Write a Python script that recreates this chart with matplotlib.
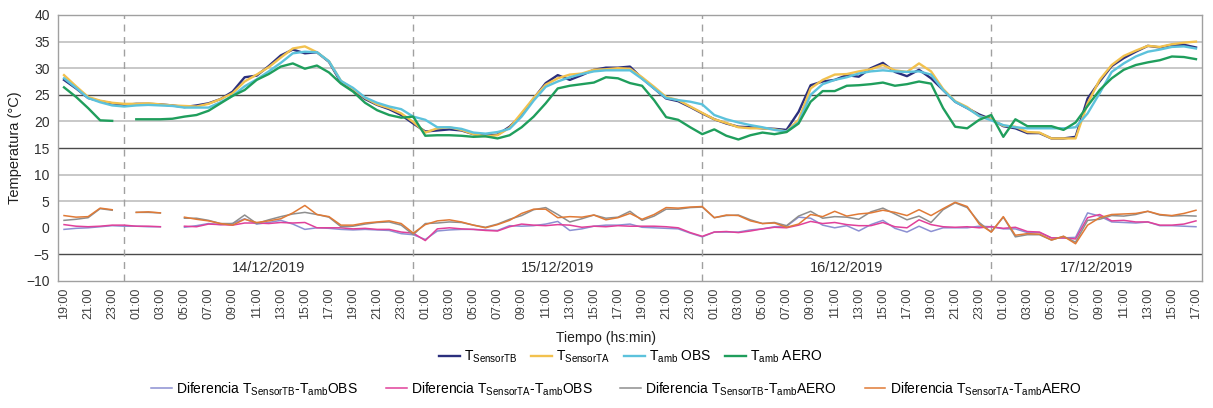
import numpy as np
import matplotlib
matplotlib.use("Agg")
import matplotlib.pyplot as plt
from matplotlib import font_manager

nan = np.nan

# ---------------- data ----------------
start_hour = 19
n_points = 95
time_labels = ["%02d:00" % ((start_hour + i) % 24) for i in range(n_points)]
dates = ["14/12/2019", "15/12/2019", "16/12/2019", "17/12/2019"]
day_starts = [5, 29, 53, 77]   # index of 00:00 of each date

T_sensor_TB = [27.8, 26.2, 24.4, 23.8, 23.4, 23.1, 23.3, 23.3, 23.2, 23.0,
               22.7, 23.0, 23.4, 24.2, 25.6, 28.3, 28.6, 30.4, 32.4, 33.5,
               32.8, 33.0, 31.2, 27.3, 25.9, 24.2, 23.1, 22.3, 21.2, 19.6,
               18.1, 18.3, 18.5, 18.3, 17.6, 17.3, 17.5, 19.0, 21.2, 24.3,
               27.2, 28.7, 27.8, 28.7, 29.7, 30.1, 30.1, 30.3, 28.1, 26.2,
               24.3, 23.8, 22.7, 21.5, 20.4, 19.6, 19.0, 18.9, 18.7, 18.6,
               18.4, 21.8, 26.8, 27.5, 27.8, 28.7, 28.4, 30.0, 31.0, 29.3,
               28.5, 29.7, 28.1, 25.9, 23.7, 22.5, 21.3, 20.4, 19.1, 18.7,
               17.8, 17.8, 16.8, 16.8, 17.1, 24.3, 27.5, 30.4, 31.9, 33.1,
               34.2, 33.9, 34.4, 34.4, 33.9]

T_sensor_TA = [28.7, 26.6, 24.6, 23.9, 23.5, 23.3, 23.3, 23.4, 23.2, 23.0,
               22.9, 22.8, 23.3, 24.2, 25.3, 27.5, 28.8, 30.2, 32.0, 33.7,
               34.1, 33.0, 31.3, 27.6, 26.1, 24.4, 23.2, 22.5, 21.5, 19.9,
               17.9, 18.7, 18.9, 18.4, 17.6, 17.2, 17.4, 18.8, 21.6, 24.4,
               26.9, 28.1, 28.8, 29.0, 29.7, 29.8, 30.0, 29.9, 28.3, 26.5,
               24.6, 24.0, 22.8, 21.6, 20.4, 19.7, 18.9, 18.7, 18.7, 18.5,
               18.1, 20.3, 26.2, 27.8, 28.8, 28.9, 29.4, 29.8, 30.6, 29.6,
               29.3, 30.9, 29.4, 26.1, 23.8, 22.7, 21.0, 20.4, 19.2, 19.0,
               18.0, 17.9, 16.8, 16.8, 16.8, 23.4, 27.8, 30.6, 32.3, 33.3,
               34.2, 34.0, 34.5, 34.8, 35.0]

T_amb_OBS = [28.1, 26.3, 24.4, 23.6, 23.0, 22.8, 23.0, 23.1, 23.0, 22.9,
             22.6, 22.6, 22.6, 23.6, 24.8, 26.6, 27.9, 29.4, 31.0, 32.8,
             33.1, 33.0, 31.3, 27.6, 26.3, 24.5, 23.5, 22.8, 22.3, 20.9,
             20.3, 18.9, 18.9, 18.6, 17.9, 17.7, 18.0, 18.6, 20.9, 23.9,
             26.5, 27.5, 28.3, 28.9, 29.4, 29.6, 29.6, 29.6, 28.0, 26.2,
             24.4, 24.0, 23.7, 23.2, 21.2, 20.4, 19.8, 19.3, 18.9, 18.4,
             18.1, 19.8, 25.0, 27.0, 27.8, 28.3, 29.0, 29.4, 29.6, 29.4,
             29.3, 29.4, 28.8, 25.9, 23.7, 22.5, 21.0, 20.2, 19.3, 18.9,
             18.7, 18.7, 18.7, 18.7, 18.9, 21.5, 25.3, 29.3, 30.9, 32.2,
             33.1, 33.5, 34.0, 34.1, 33.7]

T_amb_AERO = [26.4, 24.6, 22.5, 20.2, 20.1, nan, 20.4, 20.4, 20.4, 20.5,
              20.9, 21.2, 22.0, 23.4, 24.8, 25.9, 27.8, 28.9, 30.3, 30.9,
              29.9, 30.5, 29.2, 27.1, 25.6, 23.5, 22.1, 21.2, 20.7, 20.9,
              17.3, 17.4, 17.4, 17.3, 17.1, 17.2, 16.8, 17.4, 18.9, 20.9,
              23.4, 26.2, 26.7, 27.0, 27.3, 28.3, 28.1, 27.2, 26.7, 24.0,
              20.8, 20.3, 18.9, 17.6, 18.5, 17.3, 16.6, 17.4, 17.9, 17.6,
              18.0, 19.6, 23.7, 25.7, 25.7, 26.7, 26.8, 27.0, 27.3, 26.7,
              27.0, 27.5, 27.1, 22.5, 19.0, 18.7, 20.3, 21.2, 17.1, 20.4,
              19.1, 19.1, 19.1, 18.4, 19.8, 22.9, 25.9, 28.1, 29.7, 30.6,
              31.1, 31.5, 32.2, 32.1, 31.7]

diff_missing = ["04:00"]   # hour (14/12) with no difference values

# ---------------- style ----------------
names = {f.name for f in font_manager.fontManager.ttflist}
fam = "Liberation Sans Narrow" if "Liberation Sans Narrow" in names else "Liberation Sans"
plt.rcParams["font.family"] = [fam, "DejaVu Sans"]
plt.rcParams["mathtext.fontset"] = "custom"
plt.rcParams["mathtext.rm"] = fam
plt.rcParams["mathtext.default"] = "regular"

c_TB = "#2b2f7d"
c_TA = "#f2c14e"
c_OBS = "#5cc2dc"
c_AERO = "#1f9e5c"
c_d1 = "#8c90d2"
c_d2 = "#e0409a"
c_d3 = "#8e8e8e"
c_d4 = "#e07a36"

W, H = 1213, 408
fig = plt.figure(figsize=(W / 100, H / 100), dpi=100)
ax = fig.add_axes([58 / W, 1 - 281 / H, (1202 - 58) / W, (281 - 15) / H])

x = np.arange(n_points)
TB = np.array(T_sensor_TB)
TA = np.array(T_sensor_TA)
OBS = np.array(T_amb_OBS)
AERO = np.array(T_amb_AERO)

d_TB_OBS = TB - OBS
d_TA_OBS = TA - OBS
d_TB_AERO = TB - AERO
d_TA_AERO = TA - AERO
miss_idx = [i for i, t in enumerate(time_labels) if t in diff_missing and i < 24]
for d in (d_TB_OBS, d_TA_OBS, d_TB_AERO, d_TA_AERO):
    d[miss_idx] = nan

ax.set_xlim(-0.5, n_points - 0.5)
ax.set_ylim(-10, 40)
yt = list(range(-10, 45, 5))
ax.set_yticks(yt)
for y in yt:
    if y in (-10, 0, 40):
        continue
    if y in (25, 15, -5):
        ax.axhline(y, color="#4a4a4a", lw=1.0, zorder=0)
    else:
        ax.axhline(y, color="#c4c4c4", lw=1.3, zorder=0)
ax.axhline(40, color="#a8a8a8", lw=1.3, zorder=0)

for ds in day_starts:
    ax.axvline(ds, color="#a0a0a0", lw=1.0, ls=(0, (5, 4)), zorder=0)

bounds = day_starts + [n_points - 0.5]
for k, dname in enumerate(dates):
    xc = (bounds[k] + bounds[k + 1]) / 2
    ax.text(xc, -7.6, dname, ha="center", va="center", fontsize=10.5, color="#303030")

# difference lines
ax.plot(x, d_TB_OBS, color=c_d1, lw=1.1, label=r"Diferencia T$_{SensorTB}$-T$_{amb}$OBS")
ax.plot(x, d_TA_OBS, color=c_d2, lw=1.1, label=r"Diferencia T$_{SensorTA}$-T$_{amb}$OBS")
ax.plot(x, d_TB_AERO, color=c_d3, lw=1.1, label=r"Diferencia T$_{SensorTB}$-T$_{amb}$AERO")
ax.plot(x, d_TA_AERO, color=c_d4, lw=1.1, label=r"Diferencia T$_{SensorTA}$-T$_{amb}$AERO")

# main lines
ax.plot(x, TB, color=c_TB, lw=1.7, label=r"T$_{SensorTB}$")
ax.plot(x, TA, color=c_TA, lw=1.7, label=r"T$_{SensorTA}$")
ax.plot(x, OBS, color=c_OBS, lw=1.7, label=r"T$_{amb}$ OBS")
ax.plot(x, AERO, color=c_AERO, lw=1.7, label=r"T$_{amb}$ AERO")

ax.set_xticks(x[::2])
ax.set_xticklabels(time_labels[::2], rotation=90)
ax.tick_params(axis="x", length=0, labelsize=9, colors="#404040", pad=5)
ax.tick_params(axis="y", length=0, labelsize=10, colors="#303030", pad=6)
for s in ax.spines.values():
    s.set_color("#a0a0a0")
    s.set_linewidth(1.0)

ax.set_ylabel("Temperatura (°C)", fontsize=10.5, color="#202020", labelpad=3)
fig.text(0.5, 1 - 338 / H, "Tiempo (hs:min)", ha="center", va="center", fontsize=10, color="#202020")

h, lab = ax.get_legend_handles_labels()
fig.legend(h[4:], lab[4:], loc="center", bbox_to_anchor=(0.52, 1 - 357 / H), ncol=4,
           frameon=False, fontsize=10, handlelength=1.5, handletextpad=0.3,
           columnspacing=1.0)
fig.legend(h[:4], lab[:4], loc="center", bbox_to_anchor=(0.508, 1 - 389 / H), ncol=4,
           frameon=False, fontsize=10, handlelength=1.5, handletextpad=0.3,
           columnspacing=2.0)

fig.savefig("out.png", dpi=100)
